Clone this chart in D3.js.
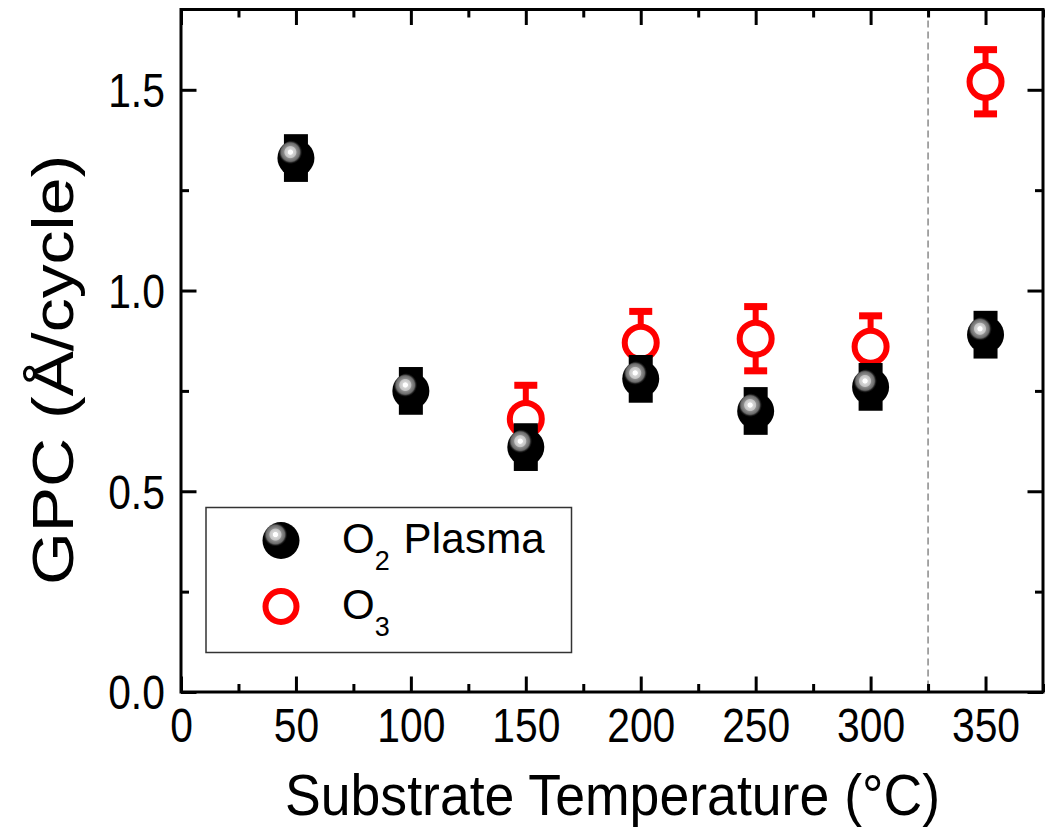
<!DOCTYPE html>
<html>
<head>
<meta charset="utf-8">
<script src="https://cdn.jsdelivr.net/npm/d3@7"></script>
<style>
  html, body { margin: 0; padding: 0; background: #fff; }
  svg { display: block; font-family: "Liberation Sans", Arial, sans-serif; }
</style>
</head>
<body>
<div id="chart"></div>
<script>
// substrate temperature (°C)
const plasmaTemps = [50, 100, 150, 200, 250, 300, 350]
const plasmaGPC = [1.33, 0.75, 0.61, 0.78, 0.70, 0.76, 0.89]
const plasmaErr = [0.047, 0.047, 0.047, 0.047, 0.047, 0.047, 0.047]
const ozoneTemps = [150, 200, 250, 300, 350]
const ozoneGPC = [0.68, 0.87, 0.88, 0.86, 1.52]
const ozoneErr = [0.084, 0.078, 0.08, 0.077, 0.08]
const xTicks = [0, 50, 100, 150, 200, 250, 300, 350]
const xMinor = [25, 75, 125, 175, 225, 275, 325, 375]
const yTicks = [0, 0.5, 1.0, 1.5]
const yMinor = [0.25, 0.75, 1.25]
const splitTemp = 325

const W = 1048, H = 834
const margin = { top: 9.5, right: 5, bottom: 142, left: 181 }
const width = W - margin.left - margin.right
const height = H - margin.top - margin.bottom

const svg = d3.select('#chart').append('svg')
  .attr('width', W)
  .attr('height', H)

// ball gradient for O2 plasma markers
const grad = svg.append('defs').append('radialGradient')
  .attr('id', 'ball')
  .attr('cx', 0.35).attr('cy', 0.34).attr('r', 0.5)
  .attr('fx', 0.35).attr('fy', 0.34)
grad.selectAll('stop')
  .data([[0, '#ffffff'], [0.12, '#ffffff'], [0.16, '#d6d6d6'], [0.3, '#c4c4c4'], [0.35, '#8c8c8c'], [0.5, '#6a6a6a'], [0.58, '#1a1a1a'], [0.64, '#000'], [1, '#000']])
  .join('stop')
  .attr('offset', d => d[0])
  .attr('stop-color', d => d[1])

const g = svg.append('g')
  .attr('transform', 'translate(' + margin.left + ',' + margin.top + ')')

const x = d3.scaleLinear().domain([0, 375]).range([0, width])
const y = d3.scaleLinear().domain([0, 1.7]).range([height, 0])

// dashed separator
g.append('line')
  .attr('x1', x(splitTemp)).attr('x2', x(splitTemp))
  .attr('y1', 0).attr('y2', height)
  .attr('stroke', '#8a8a8a')
  .attr('stroke-width', 1.5)
  .attr('stroke-dasharray', '7,4')

// ticks on all four sides, pointing inward
function tickStyle(sel) {
  sel.select('.domain').remove()
  sel.selectAll('line').attr('stroke', '#000').attr('stroke-width', 3)
}
const fs = 48
g.append('g').attr('transform', 'translate(0,' + height + ')')
  .call(d3.axisBottom(x).tickValues(xTicks).tickSize(-15.5).tickPadding(16).tickFormat(d3.format('d')))
  .call(tickStyle)
  .call(s => s.selectAll('text').attr('font-size', fs).attr('fill', '#000')
    .attr('font-family', '"Liberation Sans", Arial, sans-serif')
    .attr('transform', 'scale(0.85,1)').attr('dy', '0.71em'))
g.append('g').attr('transform', 'translate(0,' + height + ')')
  .call(d3.axisBottom(x).tickValues(xMinor).tickSize(-8).tickFormat(''))
  .call(tickStyle)
g.append('g')
  .call(d3.axisTop(x).tickValues(xTicks).tickSize(-15.5).tickFormat(''))
  .call(tickStyle)
g.append('g')
  .call(d3.axisTop(x).tickValues(xMinor).tickSize(-8).tickFormat(''))
  .call(tickStyle)
g.append('g')
  .call(d3.axisLeft(y).tickValues(yTicks).tickSize(-15.5).tickPadding(19).tickFormat(d3.format('.1f')))
  .call(tickStyle)
  .call(s => s.selectAll('text').attr('font-size', fs).attr('fill', '#000')
    .attr('font-family', '"Liberation Sans", Arial, sans-serif')
    .attr('transform', 'scale(0.85,1)').attr('dy', '0.35em'))
g.append('g')
  .call(d3.axisLeft(y).tickValues(yMinor).tickSize(-8).tickFormat(''))
  .call(tickStyle)
g.append('g').attr('transform', 'translate(' + width + ',0)')
  .call(d3.axisRight(y).tickValues(yTicks).tickSize(-15.5).tickFormat(''))
  .call(tickStyle)
g.append('g').attr('transform', 'translate(' + width + ',0)')
  .call(d3.axisRight(y).tickValues(yMinor).tickSize(-8).tickFormat(''))
  .call(tickStyle)

// frame
g.append('rect')
  .attr('width', width).attr('height', height)
  .attr('fill', 'none').attr('stroke', '#000').attr('stroke-width', 3)

// O3 series (drawn first, plasma sits on top)
const ozone = ozoneTemps.map((t, i) => ({ t, v: ozoneGPC[i], e: ozoneErr[i] }))
const oz = g.append('g').selectAll('g').data(ozone).join('g')
  .attr('transform', d => 'translate(' + x(d.t) + ',0)')
oz.append('line')
  .attr('y1', d => y(d.v + d.e)).attr('y2', d => y(d.v - d.e))
  .attr('stroke', '#ff0000').attr('stroke-width', 6)
oz.append('rect')
  .attr('x', -11.5).attr('width', 23).attr('height', 7)
  .attr('y', d => y(d.v + d.e) - 3.5).attr('fill', '#ff0000')
oz.append('rect')
  .attr('x', -11.5).attr('width', 23).attr('height', 7)
  .attr('y', d => y(d.v - d.e) - 3.5).attr('fill', '#ff0000')
oz.append('circle')
  .attr('cy', d => y(d.v)).attr('r', 16)
  .attr('fill', '#fff').attr('stroke', '#ff0000').attr('stroke-width', 6)

// O2 plasma series
const plasma = plasmaTemps.map((t, i) => ({ t, v: plasmaGPC[i], e: plasmaErr[i] }))
const pl = g.append('g').selectAll('g').data(plasma).join('g')
  .attr('transform', d => 'translate(' + x(d.t) + ',0)')
pl.append('line')
  .attr('y1', d => y(d.v + d.e)).attr('y2', d => y(d.v - d.e))
  .attr('stroke', '#000').attr('stroke-width', 6)
pl.append('rect')
  .attr('x', -12).attr('width', 24).attr('height', 10)
  .attr('y', d => y(d.v + d.e) - 5).attr('fill', '#000')
pl.append('rect')
  .attr('x', -12).attr('width', 24).attr('height', 10)
  .attr('y', d => y(d.v - d.e) - 5).attr('fill', '#000')
pl.append('circle')
  .attr('cy', d => y(d.v)).attr('r', 18.5)
  .attr('fill', 'url(#ball)')

// legend
const lg = svg.append('g')
lg.append('rect')
  .attr('x', 206).attr('y', 507.5).attr('width', 365.5).attr('height', 145)
  .attr('fill', '#fff').attr('stroke', '#333').attr('stroke-width', 1.5)
lg.append('circle').attr('cx', 281).attr('cy', 540.5).attr('r', 18.5).attr('fill', 'url(#ball)')
lg.append('circle').attr('cx', 281).attr('cy', 606.5).attr('r', 15.5)
  .attr('fill', '#fff').attr('stroke', '#ff0000').attr('stroke-width', 6)
const t1 = lg.append('text').attr('x', 342).attr('y', 553).attr('font-size', 42).attr('fill', '#000')
t1.append('tspan').text('O')
t1.append('tspan').attr('font-size', 27).attr('dy', 17).text('2')
t1.append('tspan').attr('dy', -17).attr('dx', 2).attr('textLength', 153).text(' Plasma')
const t2 = lg.append('text').attr('x', 342).attr('y', 619).attr('font-size', 42).attr('fill', '#000')
t2.append('tspan').text('O')
t2.append('tspan').attr('font-size', 27).attr('dy', 17).text('3')

// axis titles
svg.append('text')
  .attr('x', 612.5).attr('y', 815)
  .attr('text-anchor', 'middle')
  .attr('font-size', 58)
  .attr('textLength', 655).attr('lengthAdjust', 'spacingAndGlyphs')
  .text('Substrate Temperature (°C)')
svg.append('text')
  .attr('transform', 'translate(73,370) rotate(-90)')
  .attr('text-anchor', 'middle')
  .attr('font-size', 58)
  .attr('textLength', 430).attr('lengthAdjust', 'spacingAndGlyphs')
  .text('GPC (Å/cycle)')
</script>
</body>
</html>
